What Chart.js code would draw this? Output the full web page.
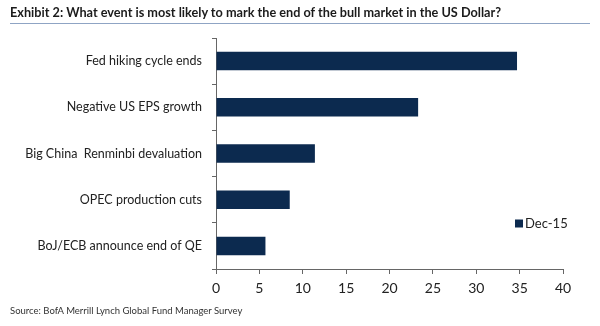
<!DOCTYPE html>
<html>
<head>
<meta charset="utf-8">
<script src="https://cdn.jsdelivr.net/npm/chart.js@4.4.1/dist/chart.umd.min.js"></script>
<style>
  html, body { margin: 0; padding: 0; background: #fff; }
  #wrap { position: relative; width: 600px; height: 326px; overflow: hidden; }
  #title {
    position: absolute; left: 10px; top: 4px; width: 580px;
    font: bold 12.7px Lato, sans-serif;
    color: #1b1b1b; border-bottom: 1px solid #8fa4c4; padding-bottom: 3px; white-space: nowrap;
  }
  #source {
    position: absolute; left: 10px; top: 305px;
    font: 9.5px Lato, sans-serif; color: #333;
  }
  canvas { position: absolute; left: 0; top: 0; }
</style>
</head>
<body>
<div id="wrap">
  <canvas id="c" width="600" height="326"></canvas>
  <div id="title">Exhibit 2: What event is most likely to mark the end of the bull market in the US Dollar?</div>
  <div id="source">Source: BofA Merrill Lynch Global Fund Manager Survey</div>
</div>
<script>
// Survey responses, December 2015 (% of respondents)
const categories = [
  'Fed hiking cycle ends',
  'Negative US EPS growth',
  'Big China  Renminbi devaluation',
  'OPEC production cuts',
  'BoJ/ECB announce end of QE'
];
const seriesName = 'Dec-15';
const dec15 = [34.7, 23.3, 11.4, 8.5, 5.7];
const xTicks = [0, 5, 10, 15, 20, 25, 30, 35, 40];

const FONT = 'Lato, sans-serif';
const NAVY = '#0c2a4f';
const AXIS = '#666';

// Legend box drawn inside the plot area, lower right
const insideLegend = {
  id: 'insideLegend',
  afterDraw(chart) {
    const ctx = chart.ctx;
    const ds = chart.data.datasets[0];
    const x = 515, y = 223.5;
    ctx.save();
    ctx.fillStyle = ds.backgroundColor;
    ctx.fillRect(x, y - 4, 8, 8);
    ctx.fillStyle = '#222';
    ctx.font = '13px ' + FONT;
    ctx.textBaseline = 'middle';
    ctx.textAlign = 'left';
    ctx.fillText(ds.label, x + 10, y);
    ctx.restore();
  }
};

new Chart(document.getElementById('c'), {
  type: 'bar',
  data: {
    labels: categories,
    datasets: [{
      label: seriesName,
      data: dec15,
      backgroundColor: NAVY,
      barPercentage: 0.4,
      categoryPercentage: 1.0
    }]
  },
  options: {
    indexAxis: 'y',
    responsive: false,
    animation: false,
    devicePixelRatio: 1,
    layout: { padding: { top: 38, right: 37, bottom: 20, left: 0 } },
    plugins: {
      legend: { display: false },
      tooltip: { enabled: false }
    },
    scales: {
      x: {
        min: 0, max: 40,
        afterBuildTicks(scale) { scale.ticks = xTicks.map(v => ({ value: v })); },
        afterFit(scale) { scale.height = 37; },
        grid: { drawOnChartArea: false, drawTicks: true, tickLength: 5, color: AXIS },
        border: { color: AXIS, width: 1 },
        ticks: { color: '#222', padding: 6, font: { family: FONT, size: 14 }, maxRotation: 0 }
      },
      y: {
        afterFit(scale) { scale.width = 216; },
        grid: { drawOnChartArea: false, drawTicks: true, tickLength: 4, color: AXIS, offset: true },
        border: { color: AXIS, width: 1 },
        ticks: { color: '#222', padding: 10, font: { family: FONT, size: 12.5 } }
      }
    }
  },
  plugins: [insideLegend]
});
</script>
</body>
</html>
